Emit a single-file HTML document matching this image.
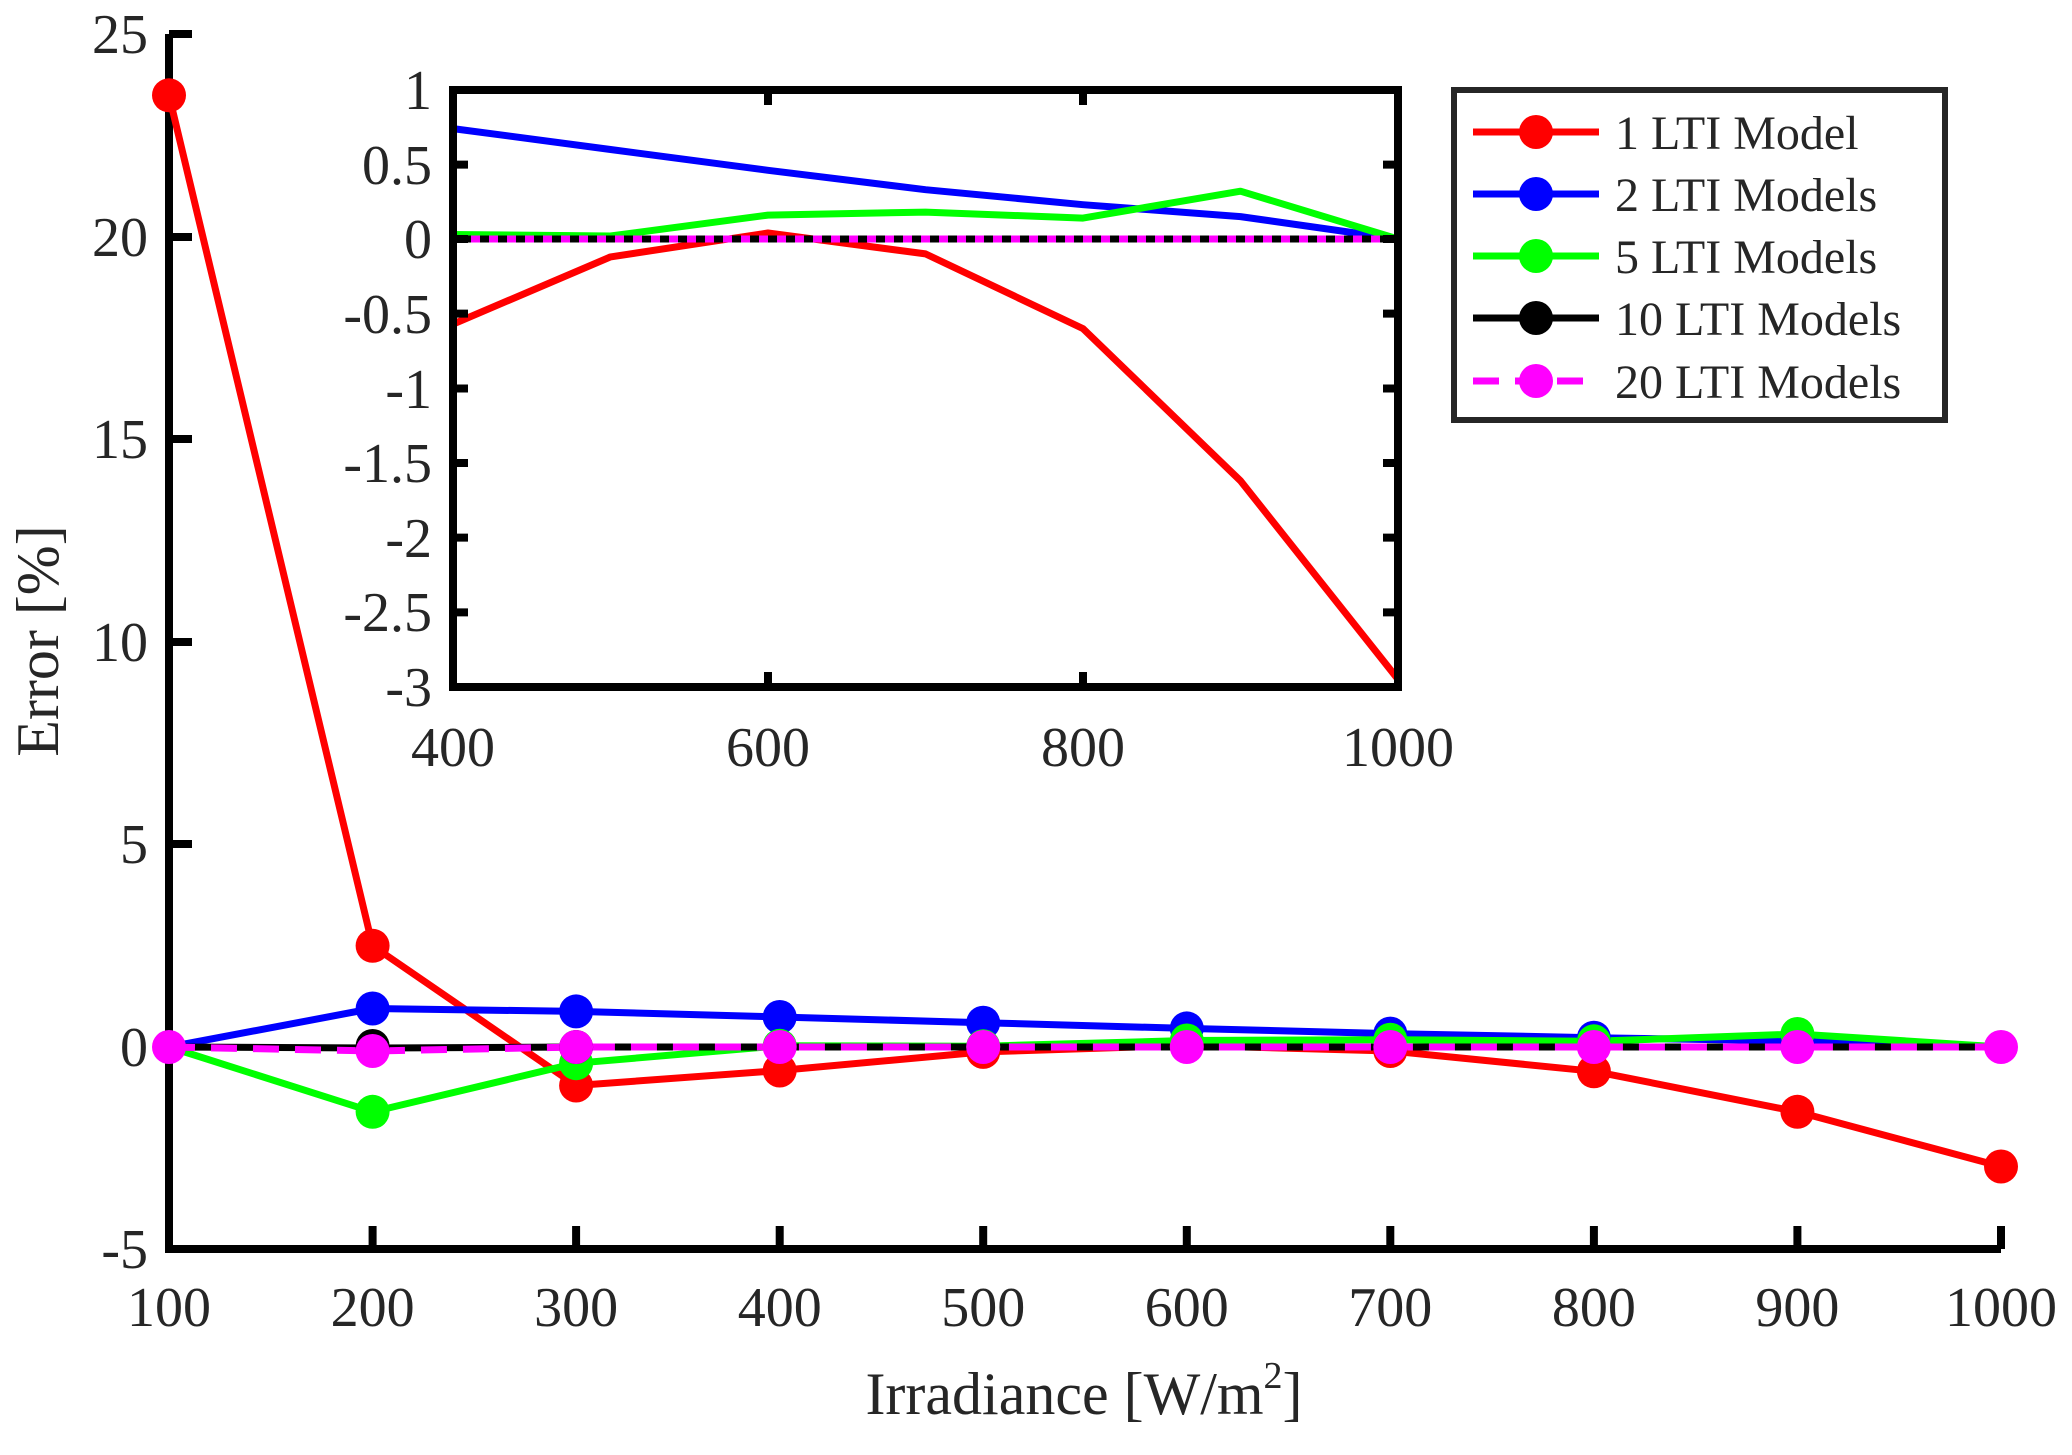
<!DOCTYPE html>
<html><head><meta charset="utf-8"><style>
html,body{margin:0;padding:0;background:#fff}
svg{display:block}
text{font-family:"Liberation Serif",serif;fill:#262626}
</style></head><body>
<svg width="2072" height="1455" viewBox="0 0 2072 1455" xmlns="http://www.w3.org/2000/svg">
<g stroke="#000" stroke-width="8" fill="none">
<path d="M169,34 V1249 H2001"/>
<path d="M169,34 H192 M169,237 H192 M169,439 H192 M169,642 H192 M169,844 H192 M169,1047 H192"/>
<path d="M372.6,1249 V1226 M576.1,1249 V1226 M779.7,1249 V1226 M983.2,1249 V1226 M1186.8,1249 V1226 M1390.3,1249 V1226 M1593.9,1249 V1226 M1797.4,1249 V1226 M2001,1249 V1226"/>
</g>
<g font-size="56" text-anchor="end">
<text x="148" y="53">25</text><text x="148" y="256">20</text><text x="148" y="458">15</text>
<text x="148" y="661">10</text><text x="148" y="863">5</text><text x="148" y="1066">0</text><text x="148" y="1268">-5</text>
</g>
<g font-size="56" text-anchor="middle">
<text x="169" y="1326">100</text><text x="372.6" y="1326">200</text><text x="576.1" y="1326">300</text><text x="779.7" y="1326">400</text><text x="983.2" y="1326">500</text><text x="1186.8" y="1326">600</text><text x="1390.3" y="1326">700</text><text x="1593.9" y="1326">800</text><text x="1797.4" y="1326">900</text><text x="2001" y="1326">1000</text>
</g>
<text x="1084" y="1414" font-size="60" text-anchor="middle">Irradiance [W/m<tspan font-size="38" dy="-26">2</tspan><tspan dy="26">]</tspan></text>
<text transform="translate(58,641) rotate(-90)" font-size="60" text-anchor="middle">Error [%]</text>

<g fill="none" stroke-width="7" stroke-linejoin="round">
<polyline stroke="#ff0000" points="169,95.3 372.6,945.8 576.1,1085.5 779.7,1070.5 983.2,1051.9 1186.8,1045.4 1390.3,1051 1593.9,1071.3 1797.4,1111.8 2001,1166.5"/>
<polyline stroke="#0000ff" points="169,1047 372.6,1008.5 576.1,1011.4 779.7,1017 983.2,1022.7 1186.8,1028.4 1390.3,1033.6 1593.9,1037.7 1797.4,1040.9 2001,1047"/>
<polyline stroke="#00ff00" points="169,1047 372.6,1111.8 576.1,1063.2 779.7,1045.8 983.2,1046.2 1186.8,1040.5 1390.3,1039.7 1593.9,1041.3 1797.4,1034 2001,1047"/>
<polyline stroke="#000000" points="169,1047 372.6,1048 576.1,1047 779.7,1047 983.2,1047 1186.8,1047 1390.3,1047 1593.9,1047 1797.4,1047 2001,1047"/>
<polyline stroke="#ff00ff" stroke-dasharray="26,16" points="169,1047 372.6,1051 576.1,1047 779.7,1047 983.2,1047 1186.8,1047 1390.3,1047 1593.9,1047 1797.4,1047 2001,1047"/>
</g>
<g fill="#ff0000">
<circle cx="169" cy="95.3" r="17"/><circle cx="372.6" cy="945.8" r="17"/><circle cx="576.1" cy="1085.5" r="17"/><circle cx="779.7" cy="1070.5" r="17"/><circle cx="983.2" cy="1051.9" r="17"/><circle cx="1186.8" cy="1045.4" r="17"/><circle cx="1390.3" cy="1051" r="17"/><circle cx="1593.9" cy="1071.3" r="17"/><circle cx="1797.4" cy="1111.8" r="17"/><circle cx="2001" cy="1166.5" r="17"/>
</g>
<g fill="#0000ff">
<circle cx="372.6" cy="1008.5" r="17"/><circle cx="576.1" cy="1011.4" r="17"/><circle cx="779.7" cy="1017" r="17"/><circle cx="983.2" cy="1022.7" r="17"/><circle cx="1186.8" cy="1028.4" r="17"/><circle cx="1390.3" cy="1033.6" r="17"/><circle cx="1593.9" cy="1037.7" r="17"/><circle cx="1797.4" cy="1040.9" r="17"/>
</g>
<g fill="#00ff00">
<circle cx="372.6" cy="1111.8" r="17"/><circle cx="576.1" cy="1063.2" r="17"/><circle cx="779.7" cy="1045.8" r="17"/><circle cx="983.2" cy="1046.2" r="17"/><circle cx="1186.8" cy="1040.5" r="17"/><circle cx="1390.3" cy="1039.7" r="17"/><circle cx="1593.9" cy="1041.3" r="17"/><circle cx="1797.4" cy="1034" r="17"/>
</g>
<g fill="#000000">
<circle cx="372.6" cy="1046" r="17"/><circle cx="576.1" cy="1047" r="17"/>
</g>
<g fill="#ff00ff">
<circle cx="169" cy="1047" r="17"/><circle cx="372.6" cy="1051" r="17"/><circle cx="576.1" cy="1047" r="17"/><circle cx="779.7" cy="1047" r="17"/><circle cx="983.2" cy="1047" r="17"/><circle cx="1186.8" cy="1047" r="17"/><circle cx="1390.3" cy="1047" r="17"/><circle cx="1593.9" cy="1047" r="17"/><circle cx="1797.4" cy="1047" r="17"/><circle cx="2001" cy="1047" r="17"/>
</g>

<rect x="453" y="90" width="945" height="597" fill="#fff"/>
<g fill="none" stroke-width="7" stroke-linejoin="round">
<polyline stroke="#ff0000" points="453,324.1 610.5,256.9 768,233 925.5,253.9 1083,328.6 1240.5,480.8 1398,679.3"/>
<polyline stroke="#0000ff" points="453,128.6 610.5,149.5 768,170.3 925.5,189.7 1083,204.7 1240.5,216.6 1398,239"/>
<polyline stroke="#00ff00" points="453,234.5 610.5,236 768,215.1 925.5,212.1 1083,218.1 1240.5,191.2 1398,239"/>
<polyline stroke="#000000" points="453,239 1398,239"/>
<polyline stroke="#ff00ff" stroke-dasharray="9,9" points="453,239 1398,239"/>
</g>
<g stroke="#000" stroke-width="8" fill="none">
<rect x="453" y="90" width="945" height="597"/>
<path d="M453,164.6 H468 M453,239 H468 M453,313.6 H468 M453,388.5 H468 M453,463 H468 M453,537.6 H468 M453,612.4 H468"/>
<path d="M1398,164.6 H1383 M1398,239 H1383 M1398,313.6 H1383 M1398,388.5 H1383 M1398,463 H1383 M1398,537.6 H1383 M1398,612.4 H1383"/>
<path d="M768,687 V672 M1083,687 V672 M768,90 V105 M1083,90 V105"/>
</g>
<g font-size="56" text-anchor="end">
<text x="432" y="109">1</text><text x="432" y="184">0.5</text><text x="432" y="258">0</text><text x="432" y="333">-0.5</text><text x="432" y="408">-1</text><text x="432" y="482">-1.5</text><text x="432" y="557">-2</text><text x="432" y="631">-2.5</text><text x="432" y="706">-3</text>
</g>
<g font-size="56" text-anchor="middle">
<text x="453" y="766">400</text><text x="768" y="766">600</text><text x="1083" y="766">800</text><text x="1398" y="766">1000</text>
</g>

<rect x="1454" y="90" width="491" height="330" fill="#fff" stroke="#262626" stroke-width="6"/>
<g stroke-width="7">
<line x1="1473" y1="132" x2="1599" y2="132" stroke="#ff0000"/><circle cx="1536" cy="132" r="17" fill="#ff0000"/>
<line x1="1473" y1="194" x2="1599" y2="194" stroke="#0000ff"/><circle cx="1536" cy="194" r="17" fill="#0000ff"/>
<line x1="1473" y1="256" x2="1599" y2="256" stroke="#00ff00"/><circle cx="1536" cy="256" r="17" fill="#00ff00"/>
<line x1="1473" y1="318" x2="1599" y2="318" stroke="#000000"/><circle cx="1536" cy="318" r="17" fill="#000000"/>
<line x1="1473" y1="381" x2="1599" y2="381" stroke="#ff00ff" stroke-dasharray="26,16"/><circle cx="1536" cy="381" r="17" fill="#ff00ff"/>
</g>
<g font-size="48">
<text x="1615" y="149">1 LTI Model</text>
<text x="1615" y="211">2 LTI Models</text>
<text x="1615" y="273">5 LTI Models</text>
<text x="1615" y="335">10 LTI Models</text>
<text x="1615" y="398">20 LTI Models</text>
</g>
</svg>
</body></html>
